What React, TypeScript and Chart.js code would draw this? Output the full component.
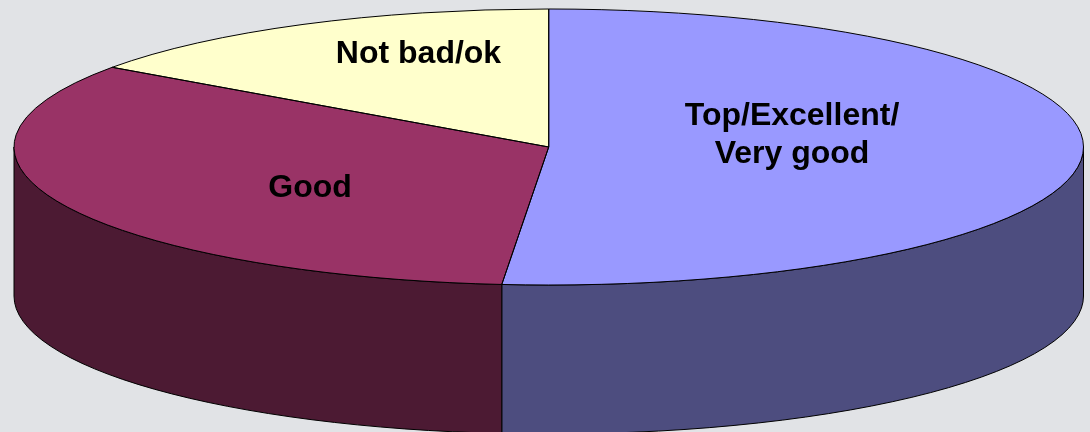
import React, { useEffect, useRef } from "react";
import { Chart, registerables } from "chart.js";

Chart.register(...registerables);

const categories = ["Top/Excellent/\nVery good", "Good", "Not bad/ok"];
const shares = [51.4, 33.4, 15.2];
const topColors = ["#9999ff", "#993366", "#ffffcc"];
const wallColors = ["#4d4d7f", "#4c1a33", "#80806a"];
const labelCenters = [[792, 125], [310, 197], [418.5, 63]];

const PAGE_BG = "#e1e3e6";
const CX = 548.75;
const CY = 147;
const RX = 534.75;
const RY = 138;
const DEPTH = 149;
const FONT = "bold 32px 'Liberation Sans', Arial, sans-serif";
const LINE_GAP = 38;

function applyTilt(ctx: CanvasRenderingContext2D, a: any) {
  const sx = RX / a.outerRadius;
  const sy = RY / a.outerRadius;
  ctx.translate(CX, CY);
  ctx.scale(sx, sy);
  ctx.translate(-a.x, -a.y);
}

const tiltedPie = {
  id: "tiltedPie",
  beforeDraw(chart: any) {
    const { ctx, width, height } = chart;
    ctx.save();
    ctx.fillStyle = PAGE_BG;
    ctx.fillRect(0, 0, width, height);
    ctx.restore();
  },
  beforeDatasetsDraw(chart: any) {
    const { ctx } = chart;
    const arcs = chart.getDatasetMeta(0).data;
    arcs.forEach((a: any, i: number) => {
      const from = Math.max(a.startAngle, 0);
      const to = Math.min(a.endAngle, Math.PI);
      if (to <= from) return;
      const sy = RY / a.outerRadius;
      ctx.save();
      applyTilt(ctx, a);
      ctx.beginPath();
      ctx.arc(a.x, a.y, a.outerRadius, from, to);
      ctx.arc(a.x, a.y + DEPTH / sy, a.outerRadius, to, from, true);
      ctx.closePath();
      ctx.restore();
      ctx.fillStyle = wallColors[i];
      ctx.fill();
      ctx.strokeStyle = "#000";
      ctx.lineWidth = 1;
      ctx.stroke();
    });
    ctx.save();
    applyTilt(ctx, arcs[0]);
  },
  afterDatasetsDraw(chart: any) {
    const { ctx } = chart;
    ctx.restore();
    const arcs = chart.getDatasetMeta(0).data;
    arcs.forEach((a: any) => {
      ctx.save();
      applyTilt(ctx, a);
      ctx.beginPath();
      ctx.moveTo(a.x, a.y);
      ctx.arc(a.x, a.y, a.outerRadius, a.startAngle, a.endAngle);
      ctx.closePath();
      ctx.restore();
      ctx.strokeStyle = "#000";
      ctx.lineWidth = 1;
      ctx.stroke();
    });
    ctx.save();
    ctx.font = FONT;
    ctx.fillStyle = "#000";
    ctx.textAlign = "center";
    ctx.textBaseline = "alphabetic";
    categories.forEach((label, i) => {
      label.split("\n").forEach((line, j) => {
        ctx.fillText(line, labelCenters[i][0], labelCenters[i][1] + j * LINE_GAP);
      });
    });
    ctx.restore();
  },
};

export default function App() {
  const ref = useRef<HTMLCanvasElement>(null);
  useEffect(() => {
    document.body.style.margin = "0";
    document.body.style.background = PAGE_BG;
    document.body.style.overflow = "hidden";
    const chart = new Chart(ref.current!, {
      type: "pie",
      data: {
        labels: categories,
        datasets: [
          {
            data: shares,
            backgroundColor: topColors,
            borderWidth: 0,
            clip: false,
          } as any,
        ],
      },
      options: {
        responsive: false,
        animation: false,
        layout: { padding: 0 },
        plugins: { legend: { display: false }, tooltip: { enabled: false } },
      },
      plugins: [tiltedPie],
    });
    return () => chart.destroy();
  }, []);
  return <canvas ref={ref} width={1090} height={432} style={{ display: "block" }} />;
}
